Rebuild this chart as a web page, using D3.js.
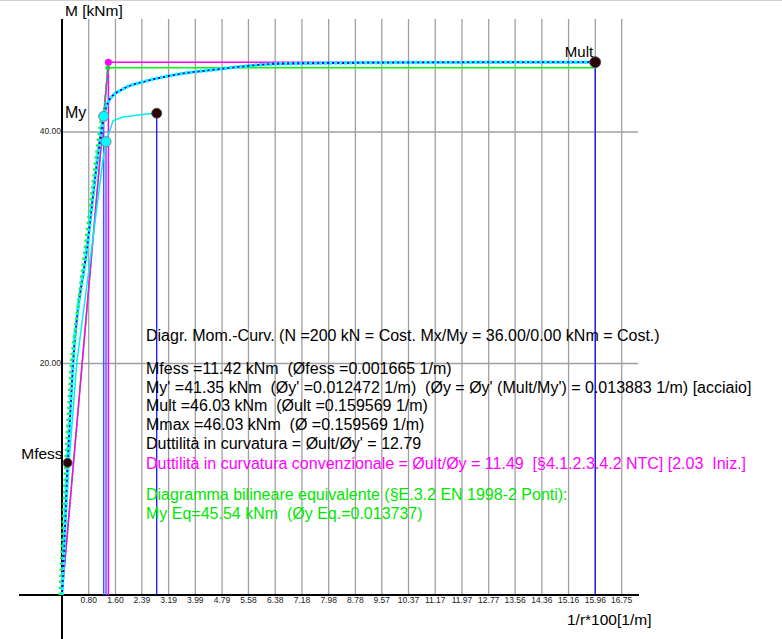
<!DOCTYPE html>
<html>
<head>
<meta charset="utf-8">
<script src="https://cdn.jsdelivr.net/npm/d3@7"></script>
<style>
  body { margin: 0; background: #fff; }
  svg { display: block; font-family: "Liberation Sans", Arial, sans-serif; }
  text { white-space: pre; }
</style>
</head>
<body>
<svg id="chart" width="782" height="639"></svg>
<script>
// curvature values are 1/r*100 [1/m], moments in kNm
var xTicks = [0.80, 1.60, 2.39, 3.19, 3.99, 4.79, 5.58, 6.38, 7.18, 7.98, 8.78,
              9.57, 10.37, 11.17, 11.97, 12.77, 13.56, 14.36, 15.16, 15.96, 16.75];
var yTicks = [20, 40];

var mainCurve = [[0, 0], [0.1665, 11.42], [0.33, 20], [0.75, 30], [1.17, 40], [1.2472, 41.35],
                 [1.32, 42.15], [1.44, 42.86], [1.83, 43.72], [2.54, 44.42], [3.53, 45.02],
                 [4.52, 45.37], [5.54, 45.71], [6.53, 45.89], [8.5, 45.97], [10.5, 46.0],
                 [13.0, 46.02], [15.9569, 46.03]];
var secondCurve = [[0, 0], [0.2, 11.0], [0.44, 20], [0.89, 30], [1.22, 37.5], [1.317, 39.16],
                   [1.53, 40.98], [1.83, 41.3], [2.54, 41.56], [2.835, 41.62]];
var bilinConv = [[0, 0], [1.3883, 46.03], [15.9569, 46.03]];
var bilinEq = [[0, 0], [1.3737, 45.54], [15.9569, 45.54]];

var pFess = [0.1665, 11.42];
var pYield = [1.2472, 41.35];
var pYield2 = [1.317, 39.16];
var pEnd2 = [2.835, 41.62];
var pUlt = [15.9569, 46.03];

var infoBlack = [
  "Mfess =11.42 kNm  (\u00d8fess =0.001665 1/m)",
  "My' =41.35 kNm  (\u00d8y' =0.012472 1/m)  (\u00d8y = \u00d8y' (Mult/My') = 0.013883 1/m) [acciaio]",
  "Mult =46.03 kNm  (\u00d8ult =0.159569 1/m)",
  "Mmax =46.03 kNm  (\u00d8 =0.159569 1/m)",
  "Duttilit\u00e0 in curvatura = \u00d8ult/\u00d8y' = 12.79"
];
var infoTitle = "Diagr. Mom.-Curv. (N =200 kN = Cost. Mx/My = 36.00/0.00 kNm = Cost.)";
var infoMagenta = "Duttilit\u00e0 in curvatura convenzionale = \u00d8ult/\u00d8y = 11.49  [\u00a74.1.2.3.4.2 NTC] [2.03  Iniz.]";
var infoGreen = [
  "Diagramma bilineare equivalente (\u00a7E.3.2 EN 1998-2 Ponti):",
  "My Eq=45.54 kNm  (\u00d8y Eq.=0.013737)"
];

var svg = d3.select("#chart");
var x = d3.scaleLinear().domain([0, 16.75]).range([62, 621.7]);
var y = d3.scaleLinear().domain([0, 40]).range([595, 132]);
var line = d3.line().x(function(d){ return x(d[0]); }).y(function(d){ return y(d[1]); });

// top border
svg.append("line").attr("x1", 0).attr("x2", 782).attr("y1", 0.5).attr("y2", 0.5)
   .attr("stroke", "#d0d0d0");

// grid
svg.selectAll(".vgrid").data(xTicks).enter().append("line")
   .attr("x1", function(d){ return x(d); }).attr("x2", function(d){ return x(d); })
   .attr("y1", 19).attr("y2", 595)
   .attr("stroke", "#a0a0a0").attr("stroke-width", 1.3);
svg.selectAll(".hgrid").data(yTicks).enter().append("line")
   .attr("x1", 62).attr("x2", 638)
   .attr("y1", function(d){ return y(d); }).attr("y2", function(d){ return y(d); })
   .attr("stroke", "#a0a0a0").attr("stroke-width", 1.3);

// axes
svg.append("line").attr("x1", 19).attr("x2", 639).attr("y1", 595).attr("y2", 595)
   .attr("stroke", "#000").attr("stroke-width", 2);
svg.append("line").attr("x1", 62).attr("x2", 62).attr("y1", 19).attr("y2", 639)
   .attr("stroke", "#000").attr("stroke-width", 2);

svg.selectAll(".xlab").data(xTicks).enter().append("text")
   .attr("x", function(d){ return x(d); }).attr("y", 603)
   .attr("text-anchor", "middle").attr("font-size", 8.5).attr("fill", "#222")
   .text(function(d){ return d.toFixed(2); });
svg.selectAll(".ylab").data(yTicks).enter().append("text")
   .attr("x", 61).attr("y", function(d){ return y(d) + 2; })
   .attr("text-anchor", "end").attr("font-size", 8.5).attr("fill", "#222")
   .text(function(d){ return d.toFixed(2); });

svg.append("text").attr("x", 65).attr("y", 16).attr("font-size", 15.5).text("M [kNm]");
svg.append("text").attr("x", 567).attr("y", 625).attr("font-size", 15.5).text("1/r*100[1/m]");

// vertical reference lines down to the axis
function vline(p, col, w){
  svg.append("line").attr("x1", x(p[0])).attr("x2", x(p[0]))
     .attr("y1", y(p[1])).attr("y2", 595)
     .attr("stroke", col).attr("stroke-width", w);
}
vline(pYield, "#5050ff", 1.5);
vline(pYield2, "#6060ff", 1.5);
vline(bilinConv[1], "#ff00ff", 1.5);
vline(pEnd2, "#0000ff", 1.2);
vline(pUlt, "#0000ff", 1.2);

// bilinear diagrams
svg.append("path").datum(bilinEq).attr("d", line)
   .attr("fill", "none").attr("stroke", "#00ff00").attr("stroke-width", 1.5);
svg.append("path").datum(bilinConv).attr("d", line)
   .attr("fill", "none").attr("stroke", "#ff00ff").attr("stroke-width", 1.5);

// second curve
svg.append("path").datum(secondCurve).attr("d", line)
   .attr("fill", "none").attr("stroke", "#00f0f0").attr("stroke-width", 1.5);

// main curve: blue line with cyan dashes, green dots on the elastic part
var curveLine = d3.line().curve(d3.curveMonotoneX)
   .x(function(d){ return x(d[0]); }).y(function(d){ return y(d[1]); });
svg.append("path").datum(mainCurve).attr("d", curveLine)
   .attr("fill", "none").attr("stroke", "#0000ff").attr("stroke-width", 2);
svg.append("path").datum(mainCurve).attr("d", curveLine)
   .attr("fill", "none").attr("stroke", "#00ffff").attr("stroke-width", 3.5)
   .attr("stroke-dasharray", "3,2");
var elastic = mainCurve.filter(function(d){ return d[1] <= pYield[1]; });
svg.append("path").datum(elastic).attr("d", line)
   .attr("fill", "none").attr("stroke", "#20f060").attr("stroke-width", 3)
   .attr("stroke-dasharray", "2.5,3.5").attr("transform", "translate(-2,0)");
svg.append("path").datum([pYield, bilinEq[1]]).attr("d", line)
   .attr("fill", "none").attr("stroke", "#20c060").attr("stroke-width", 2)
   .attr("stroke-dasharray", "3,3");

// markers
function dot(p, r, fill, stroke){
  svg.append("circle").attr("cx", x(p[0])).attr("cy", y(p[1])).attr("r", r)
     .attr("fill", fill).attr("stroke", stroke || "none").attr("stroke-width", 1);
}
dot(bilinConv[1], 3.5, "#ff00ff");
dot(bilinEq[1], 2.5, "#20d040");
dot(pFess, 4.5, "#2a0000", "#555");
dot(pYield2, 5, "#00ffff", "#808080");
dot(pYield, 5, "#00ffff", "#808080");
dot(pEnd2, 5, "#2a0000", "#555");
dot(pUlt, 5.5, "#2a0000", "#555");

svg.append("text").attr("x", x(pFess[0]) - 5).attr("y", y(pFess[1]) - 4)
   .attr("text-anchor", "end").attr("font-size", 15.5).text("Mfess");
svg.append("text").attr("x", 65).attr("y", 118).attr("font-size", 16).text("My");
svg.append("text").attr("x", x(pUlt[0]) - 2).attr("y", y(pUlt[1]) - 5)
   .attr("text-anchor", "end").attr("font-size", 15).text("Mult");

// info block
var tx = 146, fs = 16;
svg.append("text").attr("x", tx).attr("y", 341).attr("font-size", fs).text(infoTitle);
infoBlack.forEach(function(s, i){
  svg.append("text").attr("x", tx).attr("y", 374 + i * 18.7).attr("font-size", fs).text(s);
});
svg.append("text").attr("x", tx).attr("y", 468.5).attr("font-size", fs)
   .attr("fill", "#ff00ff").text(infoMagenta);
infoGreen.forEach(function(s, i){
  svg.append("text").attr("x", tx).attr("y", 500 + i * 18.7).attr("font-size", fs)
     .attr("fill", "#00e800").text(s);
});
</script>
</body>
</html>
